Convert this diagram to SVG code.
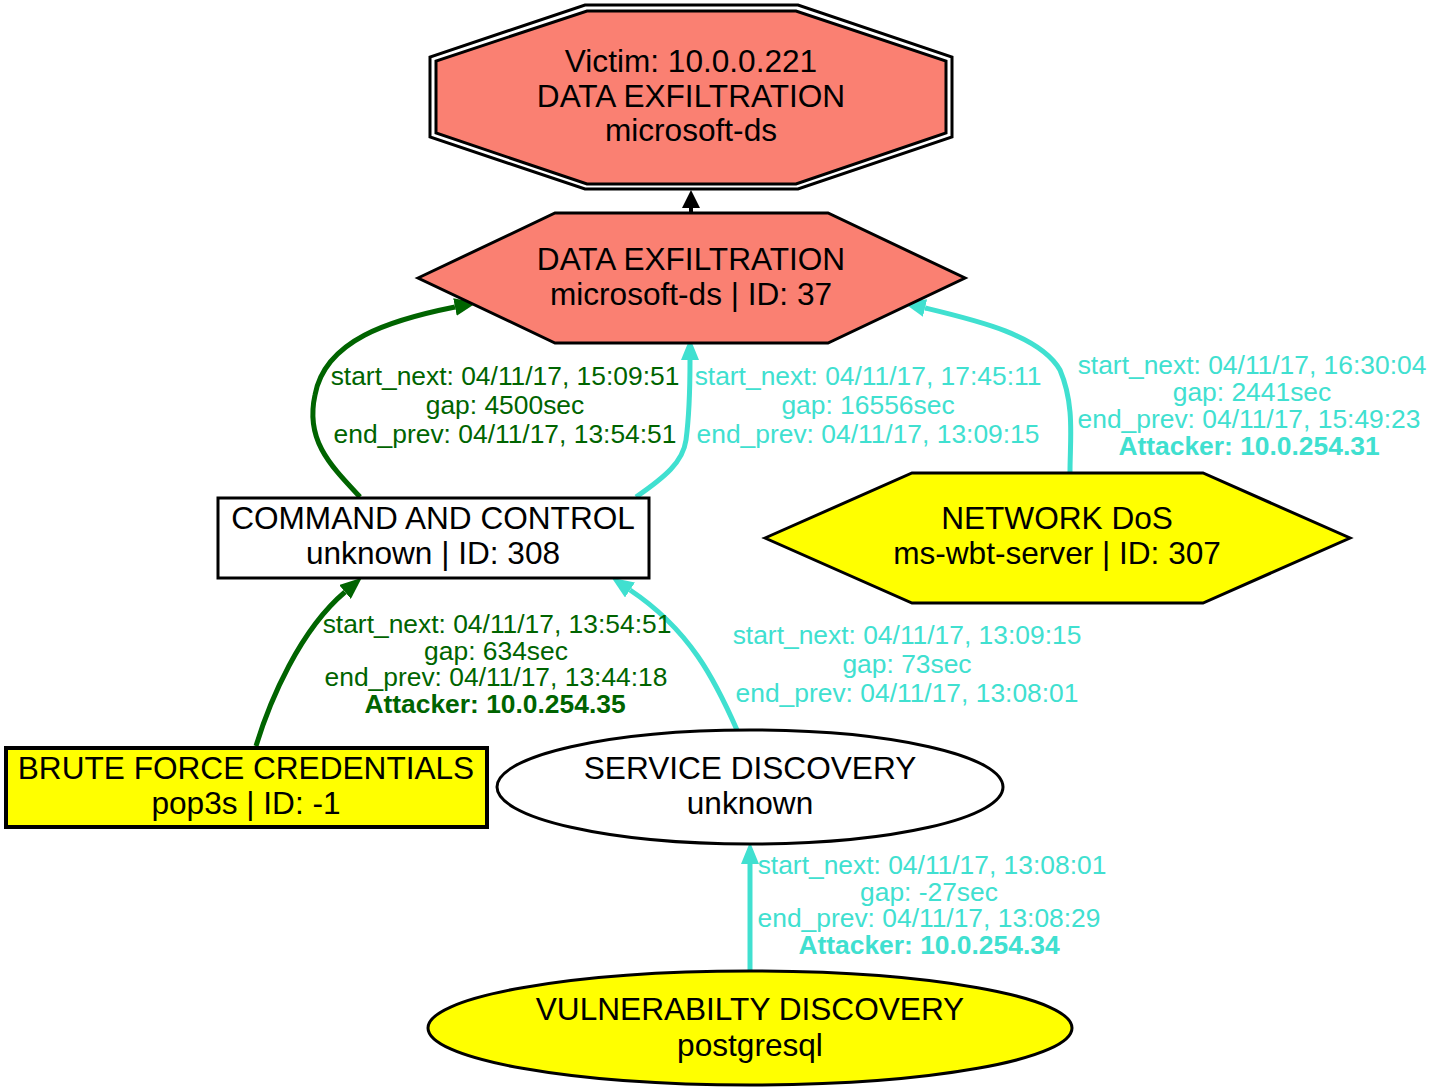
<svg xmlns="http://www.w3.org/2000/svg" width="1433" height="1091" viewBox="0 0 1433 1091">
<style>
.n{font-family:"Liberation Sans",Arial,sans-serif;font-size:31.6px;fill:#000;text-anchor:middle}
.e{font-family:"Liberation Sans",Arial,sans-serif;font-size:26.4px;text-anchor:middle}
.g{fill:#006400}
.t{fill:#40E0D0}
.b{font-weight:bold}
.sh{stroke:#000;stroke-width:3}
.cg{fill:none;stroke:#006400;stroke-width:5}
.ct{fill:none;stroke:#40E0D0;stroke-width:5}
</style>
<defs>
<marker id="ag" markerUnits="userSpaceOnUse" markerWidth="22" markerHeight="18" viewBox="0 0 22 18" refX="0" refY="9" orient="auto"><path d="M0,0 L22,9 L0,18 z" fill="#006400"/></marker>
<marker id="at" markerUnits="userSpaceOnUse" markerWidth="22" markerHeight="18" viewBox="0 0 22 18" refX="0" refY="9" orient="auto"><path d="M0,0 L22,9 L0,18 z" fill="#40E0D0"/></marker>
<marker id="ab" markerUnits="userSpaceOnUse" markerWidth="18" markerHeight="18" viewBox="0 0 18 18" refX="0" refY="9" orient="auto"><path d="M0,0 L18,9 L0,18 z" fill="#000"/></marker>
</defs>
<rect width="1433" height="1091" fill="#fff"/>
<g id="connectors">
<path d="M691,214 L691,208" fill="none" stroke="#000" stroke-width="4" marker-end="url(#ab)"/>
<path class="cg" d="M360,497 C330,465 305,440 315,395 C325,340 390,320 455,307" marker-end="url(#ag)"/>
<path class="ct" d="M636,497 C665,477 683,462 686,440 C690,410 690,380 690,360" marker-end="url(#at)"/>
<path class="ct" d="M1070,472 C1070,440 1075,405 1060,370 C1040,335 975,320 925,308" marker-end="url(#at)"/>
<path class="cg" d="M256,746 C270,700 300,630 345,592" marker-end="url(#ag)"/>
<path class="ct" d="M737,730 C715,680 690,630 630,590" marker-end="url(#at)"/>
<path class="ct" d="M750,970 L750,864" marker-end="url(#at)"/>
<text class="e g" x="505" y="385">start_next: 04/11/17, 15:09:51</text>
<text class="e g" x="505" y="414">gap: 4500sec</text>
<text class="e g" x="505" y="443">end_prev: 04/11/17, 13:54:51</text>
<text class="e t" x="868" y="385">start_next: 04/11/17, 17:45:11</text>
<text class="e t" x="868" y="414">gap: 16556sec</text>
<text class="e t" x="868" y="443">end_prev: 04/11/17, 13:09:15</text>
<text class="e t" x="1252" y="374">start_next: 04/11/17, 16:30:04</text>
<text class="e t" x="1252" y="401">gap: 2441sec</text>
<text class="e t" x="1249" y="428">end_prev: 04/11/17, 15:49:23</text>
<text class="e t b" x="1249" y="455">Attacker: 10.0.254.31</text>
<text class="e g" x="497" y="633">start_next: 04/11/17, 13:54:51</text>
<text class="e g" x="496" y="660">gap: 634sec</text>
<text class="e g" x="496" y="686">end_prev: 04/11/17, 13:44:18</text>
<text class="e g b" x="495" y="713">Attacker: 10.0.254.35</text>
<text class="e t" x="907" y="644">start_next: 04/11/17, 13:09:15</text>
<text class="e t" x="907" y="673">gap: 73sec</text>
<text class="e t" x="907" y="702">end_prev: 04/11/17, 13:08:01</text>
<text class="e t" x="932" y="874">start_next: 04/11/17, 13:08:01</text>
<text class="e t" x="929" y="901">gap: -27sec</text>
<text class="e t" x="929" y="927">end_prev: 04/11/17, 13:08:29</text>
<text class="e t b" x="929" y="954">Attacker: 10.0.254.34</text>
</g>
<g id="victim">
<polygon points="585,5 798,5 952,57 952,137 798,189 585,189 430,137 430,57" fill="#fff" stroke="#000" stroke-width="3"/>
<polygon points="587,11 796,11 946,61 946,133 796,184 587,184 436,133 436,61" fill="#FA8072" stroke="#000" stroke-width="3"/>
<text class="n" x="691" y="72">Victim: 10.0.0.221</text>
<text class="n" x="691" y="107">DATA EXFILTRATION</text>
<text class="n" x="691" y="141">microsoft-ds</text>
</g>
<g id="n37">
<polygon class="sh" points="418,278 555,213 828,213 965,278 828,343 555,343" fill="#FA8072"/>
<text class="n" x="691" y="270">DATA EXFILTRATION</text>
<text class="n" x="691" y="305">microsoft-ds | ID: 37</text>
</g>
<g id="n308">
<rect class="sh" x="218" y="498" width="431" height="80" fill="#fff"/>
<text class="n" x="433" y="529">COMMAND AND CONTROL</text>
<text class="n" x="433" y="564">unknown | ID: 308</text>
</g>
<g id="n307">
<polygon class="sh" points="765,538 912,473 1203,473 1350,538 1203,603 912,603" fill="#FFFF00"/>
<text class="n" x="1057" y="529">NETWORK DoS</text>
<text class="n" x="1057" y="564">ms-wbt-server | ID: 307</text>
</g>
<g id="nbrute">
<rect x="6" y="748" width="481" height="79" fill="#FFFF00" stroke="#000" stroke-width="4"/>
<text class="n" x="246" y="779">BRUTE FORCE CREDENTIALS</text>
<text class="n" x="246" y="814">pop3s | ID: -1</text>
</g>
<g id="nservice">
<ellipse class="sh" cx="750" cy="787" rx="253" ry="57" fill="#fff"/>
<text class="n" x="750" y="779">SERVICE DISCOVERY</text>
<text class="n" x="750" y="814">unknown</text>
</g>
<g id="nvuln">
<ellipse class="sh" cx="750" cy="1028" rx="322" ry="57" fill="#FFFF00"/>
<text class="n" x="750" y="1020">VULNERABILTY DISCOVERY</text>
<text class="n" x="750" y="1056">postgresql</text>
</g>
</svg>
